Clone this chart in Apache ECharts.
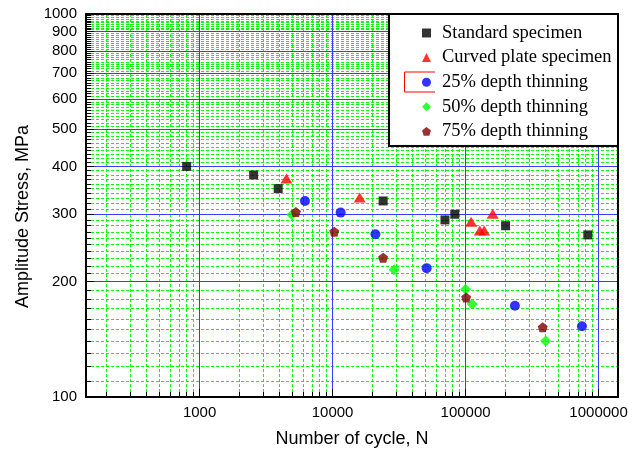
<!DOCTYPE html>
<html>
<head>
    <meta charset="utf-8">
    <title>Amplitude stress vs number of cycles</title>
    <script src="https://cdn.jsdelivr.net/npm/echarts@6/dist/echarts.min.js"></script>
</head>
<body style="margin:0">
    <div id="main" style="width: 640px;height:452px;"></div>
    <script type="text/javascript">
        // [number of cycles, amplitude stress MPa]
        var standard = [[800, 400], [2550, 380], [3900, 350], [24000, 325], [70000, 290], [83000, 300], [200000, 280], [830000, 265]];
        var curved = [[4500, 372], [16000, 332], [110000, 287], [160000, 301], [128000, 272], [138000, 272]];
        var thin25 = [[6200, 325], [11500, 303], [21000, 266], [51000, 217], [235000, 173], [750000, 153]];
        var thin50 = [[4950, 299], [29000, 215], [100000, 191], [112000, 175], [400000, 140]];
        var thin75 = [[5300, 304], [10300, 270], [24000, 231], [101000, 182], [380000, 152]];

        // tick values
        var xMajor = [1000, 10000, 100000, 1000000];
        var xMinor = [200, 300, 400, 500, 600, 700, 800, 900,
            2000, 3000, 4000, 5000, 6000, 7000, 8000, 9000,
            20000, 30000, 40000, 50000, 60000, 70000, 80000, 90000,
            200000, 300000, 400000, 500000, 600000, 700000, 800000, 900000];
        var yMajor = [100, 200, 300, 400, 500, 600, 700, 800, 900, 1000];
        var yGrid = [200, 300, 400, 500, 600, 700, 800, 900];
        var yMinor = [];
        for (var v = 110; v < 1000; v += 10) {
            if (v % 100 !== 0) yMinor.push(v);
        }

        var xMin = 140, xMax = 1400000, yMin = 100, yMax = 1000;

        var pentagon = 'path://M0,-10 L9.51,-3.09 L5.88,8.09 L-5.88,8.09 L-9.51,-3.09 Z';
        var blue = '#3b3bff';
        var green = '#00ff00';
        var labelFmt = function (val) { return String(Math.round(val)); };

        // one helper for all the stacked axes of one dimension
        function ax(dim, pos, z, extra) {
            var base = {
                type: 'log', position: pos, z: z,
                min: dim === 'x' ? xMin : yMin,
                max: dim === 'x' ? xMax : yMax,
                axisLine: { show: false },
                axisTick: { show: false },
                axisLabel: { show: false },
                splitLine: { show: false }
            };
            for (var k in extra) base[k] = extra[k];
            return base;
        }

        var myChart = echarts.init(document.getElementById('main'));

        var option = {
            animation: false,
            grid: { left: 86, right: 22, top: 14, bottom: 55, outerBoundsMode: 'none' },
            xAxis: [
                // minor grid (green dashed) + small ticks
                ax('x', 'bottom', 0, {
                    axisTick: { show: true, inside: true, length: 5, customValues: xMinor, lineStyle: { color: '#000' } },
                    splitLine: { show: true, lineStyle: { color: green, type: [3, 2], width: 1 } }
                }),
                // major grid (blue)
                ax('x', 'bottom', 1, {
                    axisTick: { show: false, customValues: xMajor },
                    splitLine: { show: true, lineStyle: { color: blue, width: 1 } }
                }),
                // axis line, labels, name
                ax('x', 'bottom', 2, {
                    name: 'Number of cycle, N',
                    nameLocation: 'middle',
                    nameGap: 33,
                    nameTextStyle: { fontSize: 18, color: '#000', fontFamily: 'Liberation Sans' },
                    axisLine: { show: true, lineStyle: { color: '#000', width: 2 } },
                    axisTick: { show: true, inside: true, length: 8, customValues: xMajor, lineStyle: { color: '#000' } },
                    axisLabel: { show: true, customValues: xMajor, formatter: labelFmt, fontSize: 15, color: '#000', fontFamily: 'Liberation Sans', margin: 8 }
                }),
                // top frame
                ax('x', 'top', 2, {
                    axisLine: { show: true, lineStyle: { color: '#000', width: 2 } }
                })
            ],
            yAxis: [
                ax('y', 'left', 0, {
                    axisTick: { show: true, inside: true, length: 5, customValues: yMinor, lineStyle: { color: '#000' } },
                    splitLine: { show: true, lineStyle: { color: green, type: [3, 2], width: 1 } }
                }),
                ax('y', 'left', 1, {
                    axisTick: { show: false, customValues: yGrid },
                    splitLine: { show: true, lineStyle: { color: blue, width: 1 } }
                }),
                ax('y', 'left', 2, {
                    name: 'Amplitude Stress, MPa',
                    nameLocation: 'middle',
                    nameGap: 54,
                    nameTextStyle: { fontSize: 18, color: '#000', fontFamily: 'Liberation Sans', padding: [0, 22, 0, 0] },
                    axisLine: { show: true, lineStyle: { color: '#000', width: 2 } },
                    axisTick: { show: true, inside: true, length: 8, customValues: yMajor, lineStyle: { color: '#000' } },
                    axisLabel: { show: true, customValues: yMajor, formatter: labelFmt, fontSize: 15, color: '#000', fontFamily: 'Liberation Sans', margin: 9 }
                }),
                // right frame
                ax('y', 'right', 2, {
                    axisLine: { show: true, lineStyle: { color: '#000', width: 2 } }
                })
            ],
            graphic: [{
                type: 'rect', z: 3,
                shape: { x: 389, y: 14, width: 229, height: 132 },
                style: { fill: '#fff', stroke: '#000', lineWidth: 2 }
            }, {
                type: 'polyline', z: 5,
                shape: { points: [[435, 72], [404.5, 72], [404.5, 92], [435, 92]] },
                style: { fill: null, stroke: '#ff0000', lineWidth: 1 }
            }],
            legend: {
                orient: 'vertical',
                left: 422, top: 23.5,
                padding: 0,
                itemWidth: 9, itemHeight: 9,
                itemGap: 5.6,
                z: 4,
                textStyle: { fontFamily: 'Liberation Serif', fontSize: 18.5, lineHeight: 19, color: '#000', padding: [0, 0, 0, 6] },
                data: ['Standard specimen', 'Curved plate specimen', '25% depth thinning', '50% depth thinning', '75% depth thinning']
            },
            series: [{
                name: 'Standard specimen', type: 'scatter', xAxisIndex: 2, yAxisIndex: 2,
                symbol: 'rect', symbolSize: 9, itemStyle: { color: '#000' }, data: standard
            }, {
                name: 'Curved plate specimen', type: 'scatter', xAxisIndex: 2, yAxisIndex: 2,
                symbol: 'triangle', symbolSize: [12, 10], itemStyle: { color: '#ff0000' }, data: curved
            }, {
                name: '25% depth thinning', type: 'scatter', xAxisIndex: 2, yAxisIndex: 2,
                symbol: 'circle', symbolSize: 10, itemStyle: { color: '#0000ff' }, data: thin25
            }, {
                name: '50% depth thinning', type: 'scatter', xAxisIndex: 2, yAxisIndex: 2,
                symbol: 'diamond', symbolSize: 11, itemStyle: { color: '#00ff00' }, data: thin50
            }, {
                name: '75% depth thinning', type: 'scatter', xAxisIndex: 2, yAxisIndex: 2,
                symbol: pentagon, symbolSize: 10, itemStyle: { color: '#800000' }, data: thin75
            }]
        };

        myChart.setOption(option);
    </script>
</body>
</html>
